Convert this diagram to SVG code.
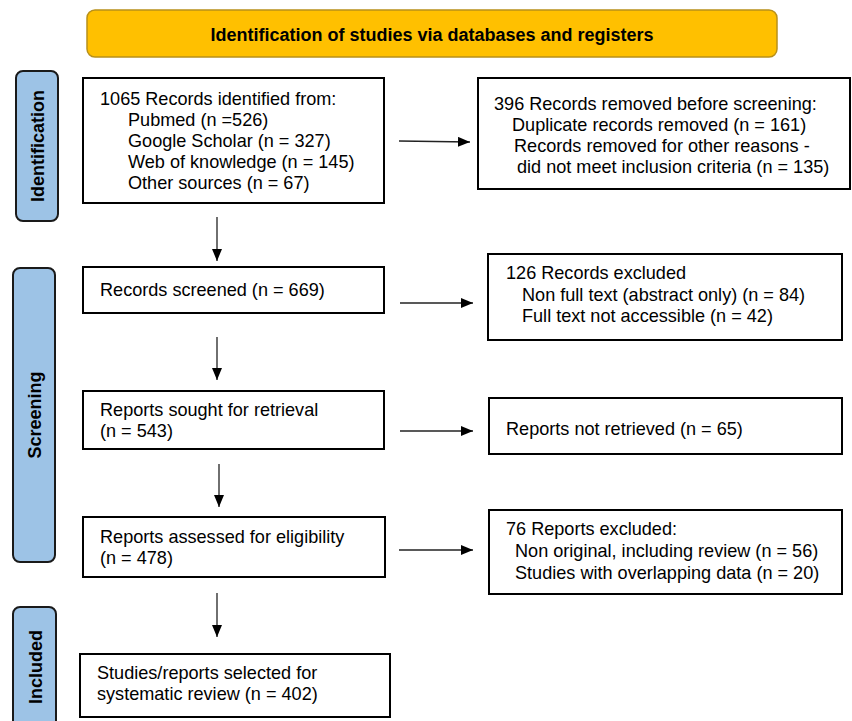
<svg xmlns="http://www.w3.org/2000/svg" width="852" height="721" viewBox="0 0 852 721">
<defs>
<marker id="ah" viewBox="0 0 12 10" refX="12" refY="5" markerWidth="12" markerHeight="10" markerUnits="userSpaceOnUse" orient="auto">
<path d="M0,0 L12,5 L0,10 Z" fill="#000"/>
</marker>
</defs>
<style>
.box{fill:#fff;stroke:#000;stroke-width:2}
.side{fill:#9DC3E6;stroke:#1a1a1a;stroke-width:2}
.hdr{fill:#FFC000;stroke:#B8901A;stroke-width:1.5}
.t{font-family:"Liberation Sans",Arial,sans-serif;font-size:18.1px;fill:#000}
.b{font-family:"Liberation Sans",Arial,sans-serif;font-weight:bold;font-size:18px;fill:#000}
.c{stroke:#222;stroke-width:1.3;fill:none;marker-end:url(#ah)}
</style>
<g id="header">
<rect class="hdr" x="87" y="10" width="690" height="47" rx="8"/>
<text class="b" x="432" y="41" text-anchor="middle" font-size="19.3">Identification of studies via databases and registers</text>
</g>
<g id="side-identification">
<rect class="side" x="16" y="71" width="42" height="150" rx="7"/>
<text class="b" transform="translate(44,146) rotate(-90)" text-anchor="middle">Identification</text>
</g>
<g id="side-screening">
<rect class="side" x="13" y="268" width="42" height="294" rx="7"/>
<text class="b" transform="translate(41,415) rotate(-90)" text-anchor="middle">Screening</text>
</g>
<g id="side-included">
<rect class="side" x="13" y="607" width="43" height="125" rx="7"/>
<text class="b" transform="translate(42,667) rotate(-90)" text-anchor="middle">Included</text>
</g>
<g id="identified">
<rect class="box" x="83" y="78" width="301" height="125"/>
<text class="t" x="100" y="105">1065 Records identified from:</text>
<text class="t" x="128" y="126">Pubmed (n =526)</text>
<text class="t" x="128" y="147">Google Scholar (n = 327)</text>
<text class="t" x="128" y="168">Web of knowledge (n = 145)</text>
<text class="t" x="128" y="189">Other sources (n = 67)</text>
</g>
<g id="removed">
<rect class="box" x="478" y="78" width="372" height="111"/>
<text class="t" x="494" y="110">396 Records removed before screening:</text>
<text class="t" x="512" y="131">Duplicate records removed (n = 161)</text>
<text class="t" x="514" y="152">Records removed for other reasons -</text>
<text class="t" x="517" y="173">did not meet inclusion criteria (n = 135)</text>
</g>
<g id="screened">
<rect class="box" x="83" y="267" width="301" height="46"/>
<text class="t" x="100" y="296">Records screened (n = 669)</text>
</g>
<g id="excluded1">
<rect class="box" x="488" y="254" width="354" height="86"/>
<text class="t" x="506" y="279">126 Records excluded</text>
<text class="t" x="522" y="301">Non full text (abstract only) (n = 84)</text>
<text class="t" x="522" y="322">Full text not accessible (n = 42)</text>
</g>
<g id="sought">
<rect class="box" x="83" y="391" width="301" height="58"/>
<text class="t" x="100" y="416">Reports sought for retrieval</text>
<text class="t" x="100" y="437">(n = 543)</text>
</g>
<g id="notretrieved">
<rect class="box" x="489" y="398" width="353" height="56"/>
<text class="t" x="506" y="435">Reports not retrieved (n = 65)</text>
</g>
<g id="assessed">
<rect class="box" x="83" y="517" width="302" height="60"/>
<text class="t" x="100" y="543">Reports assessed for eligibility</text>
<text class="t" x="100" y="564">(n = 478)</text>
</g>
<g id="excluded2">
<rect class="box" x="489" y="510" width="353" height="84"/>
<text class="t" x="506" y="535">76 Reports excluded:</text>
<text class="t" x="515" y="557">Non original, including review (n = 56)</text>
<text class="t" x="515" y="579">Studies with overlapping data (n = 20)</text>
</g>
<g id="included">
<rect class="box" x="80" y="654" width="310" height="63"/>
<text class="t" x="97" y="679">Studies/reports selected for</text>
<text class="t" x="97" y="700">systematic review (n = 402)</text>
</g>
<g id="connectors">
<line class="c" x1="399" y1="141" x2="470" y2="142"/>
<line class="c" x1="217" y1="217" x2="217" y2="261"/>
<line class="c" x1="400" y1="303" x2="473" y2="303"/>
<line class="c" x1="217" y1="337" x2="217" y2="380"/>
<line class="c" x1="400" y1="431" x2="473" y2="431"/>
<line class="c" x1="219" y1="464" x2="219" y2="507"/>
<line class="c" x1="399" y1="550" x2="473" y2="550"/>
<line class="c" x1="217" y1="593" x2="217" y2="637"/>
</g>
</svg>
